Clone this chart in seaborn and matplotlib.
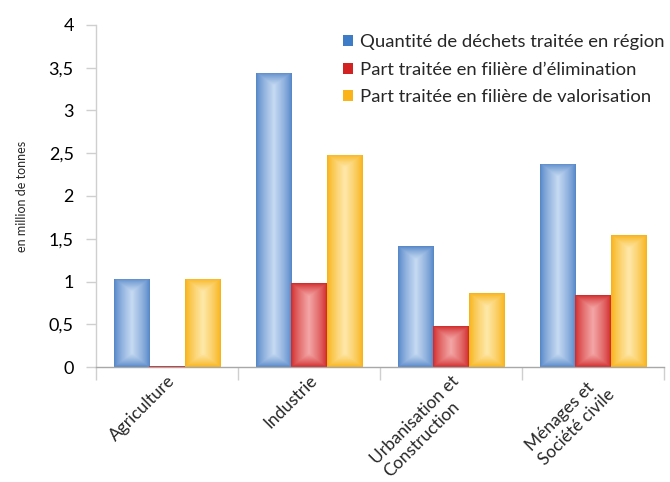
import numpy as np
import pandas as pd
import matplotlib
matplotlib.use("Agg")
import matplotlib.pyplot as plt
from matplotlib.patches import Patch
from matplotlib.colors import to_rgb
import seaborn as sns

# Données (en million de tonnes)
categories = ["Agriculture", "Industrie", "Urbanisation et\nConstruction", "Ménages et\nSociété civile"]
series = [
    "Quantité de déchets traitée en région",
    "Part traitée en filière d’élimination",
    "Part traitée en filière de valorisation",
]
quantite_region = [1.03, 3.44, 1.415, 2.375]
part_elimination = [0.01, 0.98, 0.475, 0.84]
part_valorisation = [1.03, 2.48, 0.86, 1.54]
yticks = [0, 0.5, 1, 1.5, 2, 2.5, 3, 3.5, 4]
ytick_labels = ["0", "0,5", "1", "1,5", "2", "2,5", "3", "3,5", "4"]

edge_colors = ["#4f82c6", "#cf2424", "#f8b010"]
center_colors = ["#c6daf2", "#f4a6a6", "#fee8aa"]
legend_colors = ["#3f7cc8", "#d32222", "#fab318"]

df = pd.DataFrame({
    "categorie": np.repeat(categories, 3),
    "serie": series * len(categories),
    "valeur": np.ravel(np.column_stack([quantite_region, part_elimination, part_valorisation])),
})

sns.set_style("white")
plt.rcParams["font.family"] = ["Lato", "DejaVu Sans"]

fig = plt.figure(figsize=(6.7, 4.82), dpi=100)
ax = fig.add_axes([96 / 670, (482 - 367) / 482, 568 / 670, 342 / 482])

sns.barplot(data=df, x="categorie", y="valeur", hue="serie", order=categories,
            hue_order=series, palette=edge_colors, saturation=1, width=0.75,
            legend=False, ax=ax, linewidth=0)

ax.set_xlim(-0.5, 3.5)
ax.set_ylim(0, 4)
fig.canvas.draw()

# Dégradé du centre vers les bords pour chaque barre
n_cat = len(categories)
for i, bar in enumerate(list(ax.patches)):
    s = i // n_cat
    x0, y0 = bar.get_x(), bar.get_y()
    w, h = bar.get_width(), bar.get_height()
    if h <= 0:
        continue
    (px0, py0) = ax.transData.transform((x0, y0))
    (px1, py1) = ax.transData.transform((x0 + w, y0 + h))
    wpx, hpx = max(px1 - px0, 1), max(py1 - py0, 1)
    nx, ny = max(int(wpx), 2), max(int(hpx), 2)
    xs = (np.arange(nx) + 0.5) / nx * wpx
    ys = (np.arange(ny) + 0.5) / ny * hpx
    X, Y = np.meshgrid(xs, ys)
    dx = np.minimum(X, wpx - X)
    dy = np.minimum(Y, hpx - Y)
    hw = wpx / 2
    t = np.clip(np.minimum(dx, dy * 1.3) / hw, 0, 1) ** 0.75
    e = np.array(to_rgb(edge_colors[s]))
    c = np.array(to_rgb(center_colors[s]))
    img = e + (c - e) * t[..., None]
    im = ax.imshow(img, extent=(x0, x0 + w, y0, y0 + h), origin="lower",
                   aspect="auto", interpolation="bilinear", zorder=bar.get_zorder() + 0.1)
    im.set_clip_path(bar)

ax.set_xlim(-0.5, 3.5)
ax.set_ylim(0, 4)

# Axes
for side in ["top", "right"]:
    ax.spines[side].set_visible(False)
ax.spines["left"].set_color("#cfcfcf")
ax.spines["bottom"].set_color("#a8a8a8")
ax.spines["left"].set_linewidth(1)
ax.spines["bottom"].set_linewidth(1)

ax.set_yticks(yticks)
ax.set_yticklabels(ytick_labels, fontsize=13)
ax.tick_params(axis="y", which="major", length=7, width=1, color="#cfcfcf", pad=9,
               left=True, labelcolor="black")

ax.set_xticks(range(n_cat))
ax.set_xticklabels(categories, fontsize=12.5, rotation=45, ha="right", va="top",
                   rotation_mode="anchor", multialignment="left")
ax.tick_params(axis="x", which="major", length=0, pad=4)
ax.set_xticks(np.arange(-0.5, n_cat, 1.0), minor=True)
ax.tick_params(axis="x", which="minor", length=9, width=1, color="#cfcfcf", bottom=True)

ax.set_xlabel("")
ax.set_ylabel("en million de tonnes", fontsize=9, labelpad=15)

handles = [Patch(facecolor=col, edgecolor="none") for col in legend_colors]
fig.legend(handles, series, loc="upper right", bbox_to_anchor=(1.008, 0.952),
           frameon=False, fontsize=13.3, handlelength=0.55, handleheight=0.55,
           handletextpad=0.35, labelspacing=0.62, borderaxespad=0.2)

fig.savefig("out.png", dpi=100, facecolor="white")
